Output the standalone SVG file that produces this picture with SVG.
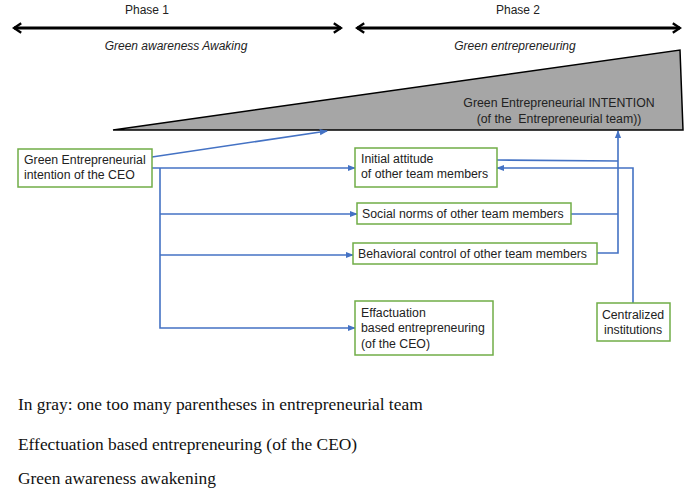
<svg xmlns="http://www.w3.org/2000/svg" width="685" height="491" viewBox="0 0 685 491">
<style>
.box{fill:#fff;stroke:#70AD47;stroke-width:1.5}
.t{font-family:"Liberation Sans",Arial,sans-serif;font-size:12.3px;fill:#222;white-space:pre}
.ti{font-family:"Liberation Sans",Arial,sans-serif;font-size:12px;font-style:italic;fill:#222;text-anchor:middle}
.ph{font-family:"Liberation Sans",Arial,sans-serif;font-size:12px;fill:#222;text-anchor:middle}
.c{fill:none;stroke:#4472C4;stroke-width:1.6}
.ph-arrow{fill:none;stroke:#000;stroke-width:3}
.note{font-family:"Liberation Serif","Times New Roman",serif;font-size:17.4px;fill:#111}
</style>
<defs>
<marker id="ah" viewBox="0 0 10 10" refX="9" refY="5" markerWidth="5" markerHeight="5" orient="auto-start-reverse">
<path d="M0,1 L10,5 L0,9 z" fill="#4472C4"/>
</marker>
<marker id="ph" viewBox="0 0 10 10" refX="8" refY="5" markerWidth="4" markerHeight="4" orient="auto-start-reverse">
<path d="M2,1 L8,5 L2,9" fill="none" stroke="#000" stroke-width="2"/>
</marker>
</defs>

<g id="phases">
<text class="ph" x="147" y="14">Phase 1</text>
<text class="ph" x="518" y="14">Phase 2</text>
<line class="ph-arrow" x1="14" y1="28" x2="341" y2="28" marker-start="url(#ph)" marker-end="url(#ph)"/>
<line class="ph-arrow" x1="357" y1="28" x2="680" y2="28" marker-start="url(#ph)" marker-end="url(#ph)"/>
<text class="ti" x="176" y="50">Green awareness Awaking</text>
<text class="ti" x="515" y="50">Green entrepreneuring</text>
</g>

<g id="team-intention">
<polygon points="113,130 680,50 683,130" fill="#A6A6A6" stroke="#000" stroke-width="1.5"/>
<text class="t" x="559" y="107" text-anchor="middle">Green Entrepreneurial INTENTION</text>
<text class="t" x="559" y="123" text-anchor="middle">(of the  Entrepreneurial team))</text>
</g>

<g id="connectors">
<line class="c" x1="152" y1="157" x2="327" y2="131" marker-end="url(#ah)"/>
<line class="c" x1="152" y1="168" x2="355" y2="168" marker-end="url(#ah)"/>
<polyline class="c" points="160,168 160,328 355,328" marker-end="url(#ah)"/>
<line class="c" x1="160" y1="214" x2="357" y2="214" marker-end="url(#ah)"/>
<line class="c" x1="160" y1="255" x2="353" y2="255" marker-end="url(#ah)"/>
<polyline class="c" points="497,160 618,161"/>
<polyline class="c" points="571,214 618,214"/>
<polyline class="c" points="597,253 618,253 618,131" marker-end="url(#ah)"/>
<polyline class="c" points="633,303 633,168 497,168" marker-end="url(#ah)"/>
</g>

<g id="ceo">
<rect class="box" x="18" y="149" width="134" height="38"/>
<text class="t" x="24" y="164">Green Entrepreneurial</text>
<text class="t" x="24" y="179">intention of the CEO</text>
</g>

<g id="attitude">
<rect class="box" x="355" y="148" width="142" height="39"/>
<text class="t" x="361" y="163">Initial attitude</text>
<text class="t" x="361" y="178">of other team members</text>
</g>

<g id="norms">
<rect class="box" x="357" y="203" width="214" height="21"/>
<text class="t" x="362" y="218">Social norms of other team members</text>
</g>

<g id="control">
<rect class="box" x="353" y="243" width="244" height="21"/>
<text class="t" x="358" y="258">Behavioral control of other team members</text>
</g>

<g id="effectuation">
<rect class="box" x="355" y="301" width="138" height="54"/>
<text class="t" x="361" y="317">Effactuation</text>
<text class="t" x="361" y="332">based entrepreneuring</text>
<text class="t" x="361" y="348">(of the CEO)</text>
</g>

<g id="institutions">
<rect class="box" x="597" y="303" width="73" height="38"/>
<text class="t" x="633" y="319" text-anchor="middle">Centralized</text>
<text class="t" x="633" y="334" text-anchor="middle">institutions</text>
</g>

<g id="notes">
<text class="note" x="18" y="410">In gray: one too many parentheses in entrepreneurial team</text>
<text class="note" x="18" y="450">Effectuation based entrepreneuring (of the CEO)</text>
<text class="note" x="18" y="484">Green awareness awakening</text>
</g>
</svg>
